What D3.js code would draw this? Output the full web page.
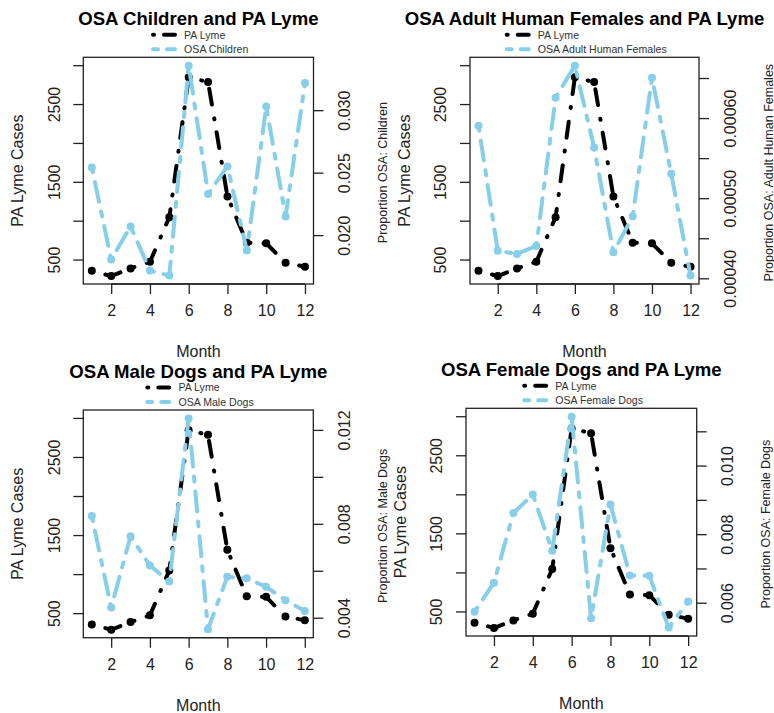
<!DOCTYPE html>
<html>
<head>
<meta charset="utf-8">
<script src="https://cdn.jsdelivr.net/npm/d3@7"></script>
<style>
  body { margin: 0; background: #fff; }
  text { font-family: "Liberation Sans", Arial, Helvetica, sans-serif; }
</style>
</head>
<body>
<svg id="chart" width="774" height="713"></svg>
<script>
// Monthly Pennsylvania Lyme cases against the monthly proportion of OSA cases
const months = [1, 2, 3, 4, 5, 6, 7, 8, 9, 10, 11, 12];
const lymeCases = [362, 294, 392, 478, 1051, 2850, 2790, 1317, 723, 715, 465, 414];
const osaChildren = [0.02546, 0.01808, 0.02074, 0.0172, 0.0168, 0.0336, 0.02334, 0.02554, 0.0188, 0.03034, 0.02154, 0.03221];
const osaAdultFemales = [0.000591, 0.000435, 0.000431, 0.000441, 0.000626, 0.000666, 0.000564, 0.000433, 0.000478, 0.000651, 0.000531, 0.000404];
const osaMaleDogs = [0.00835, 0.00446, 0.00749, 0.00625, 0.00556, 0.01251, 0.00353, 0.00577, 0.0057, 0.00534, 0.00477, 0.00431];
const osaFemaleDogs = [0.00575, 0.0066, 0.00863, 0.00917, 0.00753, 0.01144, 0.00556, 0.00888, 0.00681, 0.0068, 0.00529, 0.00605];

const monthTicks = [2, 4, 6, 8, 10, 12];
const lymeLimits = [300, 3000];
const lymeTicks = [500, 1000, 1500, 2000, 2500, 3000];
const lymeTickLabels = [500, 1500, 2500];

const childrenTicks = [0.020, 0.025, 0.030];
const childrenTickLabels = [0.020, 0.025, 0.030];
const adultFemaleTicks = [0.0004, 0.00045, 0.0005, 0.00055, 0.0006, 0.00065];
const adultFemaleTickLabels = [0.0004, 0.0005, 0.0006];
const maleDogTicks = [0.004, 0.006, 0.008, 0.010, 0.012];
const maleDogTickLabels = [0.004, 0.008, 0.012];
const femaleDogTicks = [0.006, 0.007, 0.008, 0.009, 0.010, 0.011];
const femaleDogTickLabels = [0.006, 0.008, 0.010];

const panels = [
  { title: "OSA Children and PA Lyme", series: "OSA Children", values: osaChildren,
    ticks: childrenTicks, labels: childrenTickLabels, fmt: ".3f",
    ylab: "Proportion OSA: Children", box: [83.3, 313.5, 57.3, 284] },
  { title: "OSA Adult Human Females and PA Lyme", series: "OSA Adult Human Females", values: osaAdultFemales,
    ticks: adultFemaleTicks, labels: adultFemaleTickLabels, fmt: ".5f",
    ylab: "Proportion OSA: Adult Human Females", box: [470, 699, 57.3, 284] },
  { title: "OSA Male Dogs and PA Lyme", series: "OSA Male Dogs", values: osaMaleDogs,
    ticks: maleDogTicks, labels: maleDogTickLabels, fmt: ".3f",
    ylab: "Proportion OSA: Male Dogs", box: [83.3, 313.3, 410, 637.7] },
  { title: "OSA Female Dogs and PA Lyme", series: "OSA Female Dogs", values: osaFemaleDogs,
    ticks: femaleDogTicks, labels: femaleDogTickLabels, fmt: ".3f",
    ylab: "Proportion OSA: Female Dogs", box: [466, 696.7, 408.3, 636] }
];

const BLUE = "#87CEEB";
const INK = "#222";
const LYME_DASH = "1,13,16,14";
const OSA_DASH = "5,10,20,10";

// R-style axis range: data limits widened by 4% on each side
function padded(lims) {
  const [lo, hi] = d3.extent(lims);
  const p = (hi - lo) * 0.04;
  return [lo - p, hi + p];
}

const svg = d3.select("#chart");

panels.forEach(cfg => {
  const [x0, x1, y0, y1] = cfg.box;
  const g = svg.append("g");
  const x = d3.scaleLinear().domain(padded(months)).range([x0, x1]);
  const yL = d3.scaleLinear().domain(padded(lymeLimits)).range([y1, y0]);
  const yR = d3.scaleLinear().domain(padded(cfg.values)).range([y1, y0]);
  const cx = (x0 + x1) / 2, cy = (y0 + y1) / 2;

  // Lyme cases (left axis)
  const lymeLine = d3.line().x((d, i) => x(months[i])).y(d => yL(d));
  g.append("path").attr("d", lymeLine(lymeCases))
    .attr("fill", "none").attr("stroke", "#000").attr("stroke-width", 4)
    .attr("stroke-linecap", "round").attr("stroke-linejoin", "round")
    .attr("stroke-dasharray", LYME_DASH);
  g.selectAll(null).data(lymeCases).enter().append("circle")
    .attr("cx", (d, i) => x(months[i])).attr("cy", d => yL(d)).attr("r", 4).attr("fill", "#000");

  // OSA proportion (right axis)
  const osaLine = d3.line().x((d, i) => x(months[i])).y(d => yR(d));
  g.append("path").attr("d", osaLine(cfg.values))
    .attr("fill", "none").attr("stroke", BLUE).attr("stroke-width", 4)
    .attr("stroke-linecap", "round").attr("stroke-linejoin", "round")
    .attr("stroke-dasharray", OSA_DASH);
  g.selectAll(null).data(cfg.values).enter().append("circle")
    .attr("cx", (d, i) => x(months[i])).attr("cy", d => yR(d)).attr("r", 4).attr("fill", BLUE);

  // Plot frame
  g.append("rect").attr("x", x0).attr("y", y0).attr("width", x1 - x0).attr("height", y1 - y0)
    .attr("fill", "none").attr("stroke", INK).attr("stroke-width", 1.3);

  // Bottom axis
  const xAxis = g.append("g").attr("transform", `translate(0,${y1})`)
    .call(d3.axisBottom(x).tickValues(monthTicks).tickSize(10).tickSizeOuter(0).tickPadding(12));
  xAxis.select(".domain").attr("stroke", INK).attr("stroke-width", 1.3)
    .attr("d", `M${x(monthTicks[0])},0H${x(monthTicks[monthTicks.length - 1])}`);
  xAxis.selectAll(".tick line").attr("stroke", INK).attr("stroke-width", 1.3);
  xAxis.selectAll(".tick text").attr("font-size", 16).attr("fill", INK).attr("dy", "0.65em");

  // Left axis (labels drawn rotated, parallel to the axis)
  lymeTicks.forEach(t => {
    g.append("line").attr("x1", x0 - 10).attr("x2", x0).attr("y1", yL(t)).attr("y2", yL(t))
      .attr("stroke", INK).attr("stroke-width", 1.3);
  });
  lymeTickLabels.forEach(t => {
    g.append("text").attr("transform", `translate(${x0 - 29.5},${yL(t)}) rotate(-90)`)
      .attr("text-anchor", "middle").attr("dy", "0.36em")
      .attr("font-size", 16).attr("fill", INK).text(t);
  });
  g.append("text").attr("transform", `translate(${x0 - 66},${cy}) rotate(-90)`)
    .attr("text-anchor", "middle").attr("dy", "0.36em")
    .attr("font-size", 16).attr("fill", INK).text("PA Lyme Cases");

  // Right axis
  const fmt = d3.format(cfg.fmt);
  cfg.ticks.forEach(t => {
    g.append("line").attr("x1", x1).attr("x2", x1 + 10).attr("y1", yR(t)).attr("y2", yR(t))
      .attr("stroke", INK).attr("stroke-width", 1.3);
  });
  cfg.labels.forEach(t => {
    g.append("text").attr("transform", `translate(${x1 + 31},${yR(t)}) rotate(-90)`)
      .attr("text-anchor", "middle").attr("dy", "0.36em")
      .attr("font-size", 16).attr("fill", INK).text(fmt(t));
  });
  g.append("text").attr("transform", `translate(${x1 + 69},${cy + 2}) rotate(-90)`)
    .attr("text-anchor", "middle").attr("dy", "0.36em")
    .attr("font-size", 12.5).attr("fill", INK).text(cfg.ylab);

  // Axis title and panel title
  g.append("text").attr("x", cx).attr("y", y1 + 73).attr("text-anchor", "middle")
    .attr("font-size", 16).attr("fill", INK).text("Month");
  g.append("text").attr("x", cx).attr("y", y0 - 32).attr("text-anchor", "middle")
    .attr("font-size", 18.6).attr("font-weight", "bold").attr("fill", "#000").text(cfg.title);

  // Legend above the frame
  const legend = g.append("g");
  const rows = [
    { label: "PA Lyme", color: "#000", dash: "1,10,12,12" },
    { label: cfg.series, color: BLUE, dash: "5,9,9,20" }
  ];
  const texts = rows.map((r, i) => legend.append("text")
    .attr("y", y0 - 22.5 + i * 14.5).attr("dy", "0.35em")
    .attr("font-size", 10.6).attr("fill", "#333").text(r.label));
  const textW = d3.max(texts, t => t.node().getComputedTextLength());
  const start = cx + 1.5 - (32.6 + textW) / 2;
  rows.forEach((r, i) => {
    const ly = y0 - 22.5 + i * 14.5;
    legend.append("line").attr("x1", start + 1.5).attr("x2", start + 23.5)
      .attr("y1", ly).attr("y2", ly)
      .attr("stroke", r.color).attr("stroke-width", 4)
      .attr("stroke-linecap", "round").attr("stroke-dasharray", r.dash);
    texts[i].attr("x", start + 32.6);
  });
});
</script>
</body>
</html>
